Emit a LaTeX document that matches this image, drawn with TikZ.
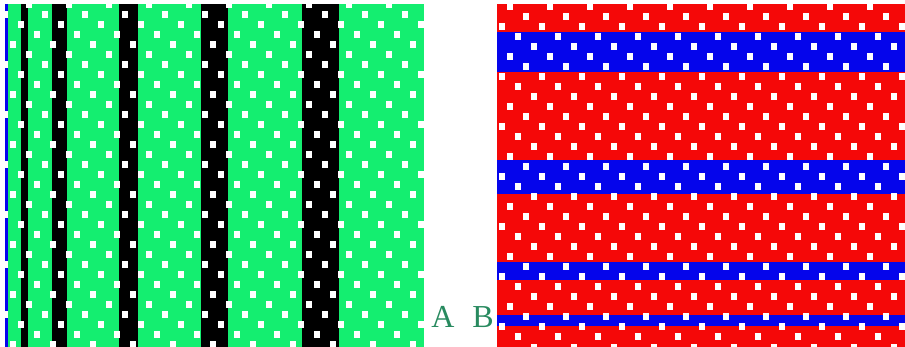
\documentclass[tikz,border=0pt]{standalone}
\usepackage{fontspec}
\setmainfont{Liberation Serif}
\usepackage{xcolor}
\usetikzlibrary{positioning}

\definecolor{weavegreen}{RGB}{20,238,112}
\definecolor{weavered}{RGB}{245,8,8}
\definecolor{weaveblue}{RGB}{5,5,235}
\definecolor{labelgreen}{RGB}{40,138,95}

\begin{document}
\begin{tikzpicture}[
	x=1pt,y=-1pt,
	dot/.style={fill=white},
	letter/.style={
		text=labelgreen,
		font=\fontsize{32}{32}\selectfont,
		inner sep=0pt,
		anchor=base
	}
	]
	\useasboundingbox (0,0) rectangle (905,347);
	
	% panel A: green with black warp stripes
	\begin{scope}
		\clip (5,4) rectangle (424,347);
		\fill[weavegreen] (5,4) rectangle (424,347);
		\foreach \xa/\xb in {21/28,52/67,119/138,201/228,302/339}
			\fill[black] (\xa,4) rectangle (\xb,347);
		\fill[weaveblue] (5,4) rectangle (8,347);
		\foreach \j in {0,...,34}{
			\pgfmathsetmacro{\off}{mod(29+16*\j,40)}
			\foreach \i in {-1,...,11}
				\fill[dot] ({\off+40*\i-3},{5+10*\j-3.5}) rectangle ++(6,7);
		}
	\end{scope}
	
	% panel B: red with blue weft bands
	\begin{scope}
		\clip (497,4) rectangle (905,347);
		\fill[weavered] (497,4) rectangle (905,347);
		\foreach \ya/\yb in {32/72,160/194,262/280,315/326}
			\fill[weaveblue] (497,\ya) rectangle (905,\yb);
		\foreach \j in {0,...,34}{
			\pgfmathsetmacro{\off}{mod(30+16*\j,40)}
			\foreach \i in {11,...,23}
				\fill[dot] ({\off+40*\i-3},{7+10*\j-3.5}) rectangle ++(6,7);
		}
	\end{scope}
	
	\node[letter] (labelA) at (443,327) {A};
	\node[letter] (labelB) at (483,327) {B};
\end{tikzpicture}
\end{document}
